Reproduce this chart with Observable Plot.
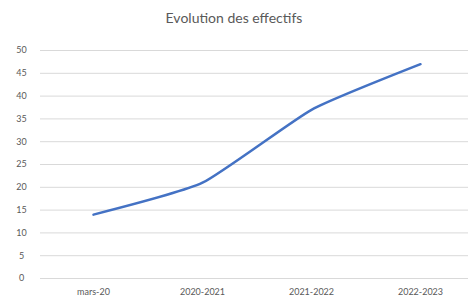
<!DOCTYPE html>
<html>
<head>
<meta charset="utf-8">
<script src="https://cdn.jsdelivr.net/npm/d3@7"></script>
<script src="https://cdn.jsdelivr.net/npm/@observablehq/plot@0.6"></script>
<style>
  html, body { margin: 0; padding: 0; background: #fff; }
  #wrap { width: 468px; height: 300px; overflow: hidden; font-family: Lato, "Open Sans", sans-serif; }
  #title { height: 35px; line-height: 36px; text-align: center; font-size: 14px; color: #595959; }
</style>
</head>
<body>
<div id="wrap">
  <div id="title">Evolution des effectifs</div>
  <div id="chart"></div>
</div>
<script>
const categories = ["mars-20", "2020-2021", "2021-2022", "2022-2023"];
const effectifs = [14, 21, 37, 47];
const yTicks = [0, 5, 10, 15, 20, 25, 30, 35, 40, 45, 50];

const data = categories.map((c, i) => ({ periode: c, valeur: effectifs[i] }));

const chart = Plot.plot({
  width: 468,
  height: 265,
  marginTop: 15,
  marginBottom: 22,
  marginLeft: 40,
  marginRight: 0,
  style: { fontFamily: "Lato, 'Open Sans', sans-serif", fontSize: "9px", color: "#595959", background: "#fff" },
  x: { type: "point", domain: categories, range: [93, 420], padding: 0, label: null },
  y: { domain: [0, 50], ticks: yTicks, label: null },
  marks: [
    Plot.ruleY(yTicks, { stroke: "#d9d9d9", strokeWidth: 1 }),
    Plot.axisY({ ticks: yTicks, tickSize: 0, tickPadding: 13, label: null, textAnchor: "middle", dx: -6, fill: "#595959" }),
    Plot.axisX({ tickSize: 0, tickPadding: 10, label: null, fill: "#595959" }),
    Plot.line(data, { x: "periode", y: "valeur", stroke: "#4472c4", strokeWidth: 2.5, curve: "cardinal", tension: 0.5, strokeLinecap: "round" })
  ]
});
document.getElementById("chart").appendChild(chart);
</script>
</body>
</html>
